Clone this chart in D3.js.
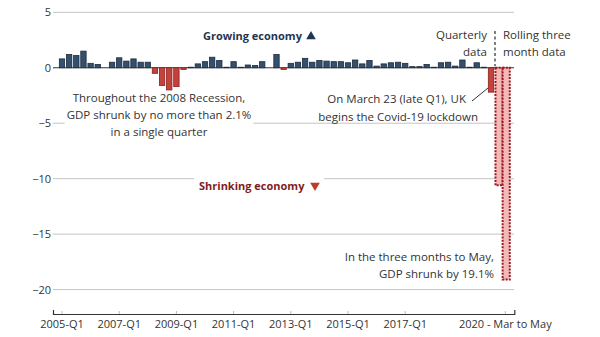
<!DOCTYPE html>
<html><head><meta charset="utf-8">
<script src="https://cdn.jsdelivr.net/npm/d3@7"></script>
<style>body{margin:0;background:#fff}svg{display:block}text{font-family:"Open Sans",sans-serif}</style>
</head><body><svg id="c" width="600" height="337"></svg>
<script>
// ---- data ----
const years = [2005,2006,2007,2008,2009,2010,2011,2012,2013,2014,2015,2016,2017,2018,2019,2020];
const quarterNames = ["Q1","Q2","Q3","Q4"];
const quarterlyGrowth = [
  0.8, 1.2, 1.1, 1.5,
  0.4, 0.3, 0.0, 0.5,
  0.9, 0.6, 0.8, 0.5,
  0.5, -0.5, -1.6, -2.0,
  -1.7, -0.15, 0.05, 0.35,
  0.55, 0.95, 0.65, 0.05,
  0.55, 0.05, 0.25, 0.2,
  0.55, 0.0, 1.2, -0.15,
  0.4, 0.5, 0.85, 0.5,
  0.65, 0.6, 0.55, 0.55,
  0.45, 0.7, 0.35, 0.65,
  0.15, 0.35, 0.45, 0.5,
  0.4, 0.1, 0.1, 0.3,
  0.05, 0.45, 0.5, 0.15,
  0.7, 0.05, 0.45, 0.05,
  -2.2
];
const rollingLabels = ["Feb to Apr", "Mar to May"];
const rollingGrowth = [-10.6, -19.1];
const yTicks = [5, 0, -5, -10, -15, -20];
const xTickCats = ["2005-Q1","2007-Q1","2009-Q1","2011-Q1","2013-Q1","2015-Q1","2017-Q1","Mar to May"];
const xTickText = {"Mar to May": "2020 - Mar to May"};

// ---- build ----
const quarterCats = years.flatMap(y => quarterNames.map(q => `${y}-${q}`)).slice(0, quarterlyGrowth.length);
const allCats = quarterCats.concat(rollingLabels);
const qData = quarterCats.map((c, i) => ({cat: c, v: quarterlyGrowth[i]}));
const rData = rollingLabels.map((c, i) => ({cat: c, v: rollingGrowth[i]}));

const svg = d3.select("#c");
const x = d3.scaleBand().domain(allCats).range([53, 514.3]).paddingInner(0.25).paddingOuter(0.884);
const y = d3.scaleLinear().domain([-22.2, 5]).range([314, 12.3]);
const xL = 53, xR = 514;
const FS = 11.5;

// gridlines
svg.append("g").selectAll("line").data(yTicks.filter(t => t !== 0)).join("line")
  .attr("x1", xL).attr("x2", xR).attr("y1", d => y(d)).attr("y2", d => y(d))
  .attr("stroke", "#c4c4c4").attr("stroke-width", 1);

// y labels
svg.append("g").attr("transform", `translate(${51},0)`)
  .call(d3.axisLeft(y).tickValues(yTicks).tickSize(0).tickPadding(0))
  .call(g => g.select(".domain").remove())
  .call(g => g.selectAll("text").attr("font-family", "Open Sans").attr("font-size", 11).attr("fill", "#333"));

// x axis
svg.append("g").attr("transform", "translate(0,314)")
  .call(d3.axisBottom(x).tickValues(xTickCats).tickFormat(d => xTickText[d] || d)
        .tickSizeInner(-3).tickSizeOuter(-4).tickPadding(6))
  .call(g => g.select(".domain").attr("stroke", "#333").attr("stroke-width", 1.2))
  .call(g => g.selectAll(".tick line").attr("stroke", "#bbb"))
  .call(g => g.selectAll("text").attr("font-family", "Open Sans").attr("font-size", 11).attr("fill", "#333"));

function boxedText(lines, xPos, y0, lh, anchor, opts = {}) {
  const g = svg.append("g");
  const bg = g.append("rect").attr("fill", "#fff");
  const t = g.append("text").attr("font-size", opts.size || FS).attr("fill", opts.fill || "#333")
    .attr("font-weight", opts.weight || 400).attr("text-anchor", anchor);
  lines.forEach((l, i) => t.append("tspan").attr("x", xPos).attr("y", y0 + i * lh).text(l));
  if (opts.box) {
    const b = t.node().getBBox();
    const p = opts.pad || 3;
    bg.attr("x", b.x - p).attr("y", b.y - p).attr("width", b.width + 2 * p + (opts.extraW || 0)).attr("height", b.height + 2 * p);
  } else bg.remove();
  return g;
}

boxedText(["Throughout the 2008 Recession,", "GDP shrunk by no more than 2.1%", "in a single quarter"], 159, 102, 17, "middle", {box: true, pad: 2});
boxedText(["Shrinking economy"], 199, 190, 0, "start", {box: true, pad: 5, weight: 700, fill: "#7f1d1d", size: 11, extraW: 14});

// baseline
svg.append("line").attr("x1", xL).attr("x2", xR).attr("y1", y(0)).attr("y2", y(0))
  .attr("stroke", "#333").attr("stroke-width", 1.2);

// quarterly bars
svg.append("g").selectAll("rect").data(qData).join("rect")
  .attr("x", d => x(d.cat)).attr("width", x.bandwidth())
  .attr("y", d => y(Math.max(0, d.v))).attr("height", d => Math.abs(y(d.v) - y(0)))
  .attr("fill", d => d.v >= 0 ? "#34506f" : "#c4423c")
  .attr("stroke", d => d.v >= 0 ? "#1d2b3d" : "#8e1d1d").attr("stroke-width", 0.8);

// rolling bars (dashed)
svg.append("g").selectAll("rect").data(rData).join("rect")
  .attr("x", d => x(d.cat)).attr("width", x.step())
  .attr("y", d => y(Math.max(0, d.v))).attr("height", d => Math.abs(y(d.v) - y(0)))
  .attr("fill", "#f5b8b8").attr("stroke", "#9a1a20").attr("stroke-width", 2)
  .attr("stroke-dasharray", "2,1.3");

// divider
svg.append("line").attr("x1", 495).attr("x2", 495).attr("y1", 31).attr("y2", 66)
  .attr("stroke", "#555").attr("stroke-width", 1.5).attr("stroke-dasharray", "3,2.5");

boxedText(["Quarterly", "data"], 487, 39, 17, "end");
boxedText(["Rolling three", "month data"], 503, 39, 17, "start");
boxedText(["On March 23 (late Q1), UK"], 466, 103, 0, "end");
boxedText(["begins the Covid-19 lockdown"], 478, 121, 0, "end");
svg.append("line").attr("x1", 472).attr("y1", 101).attr("x2", 488).attr("y2", 88)
  .attr("stroke", "#333").attr("stroke-width", 1);
boxedText(["In the three months to May,", "GDP shrunk by 19.1%"], 494, 261, 17, "end");

boxedText(["Growing economy"], 203, 40, 0, "start", {weight: 700, fill: "#1f3553", size: 11});
svg.append("path").attr("d", d3.symbol(d3.symbolTriangle, 40)())
  .attr("transform", "translate(311,36.5)").attr("fill", "#1f3553");
svg.append("path").attr("d", d3.symbol(d3.symbolTriangle, 40)())
  .attr("transform", "translate(315,185.5) rotate(180)").attr("fill", "#c0392b");
</script></body></html>
